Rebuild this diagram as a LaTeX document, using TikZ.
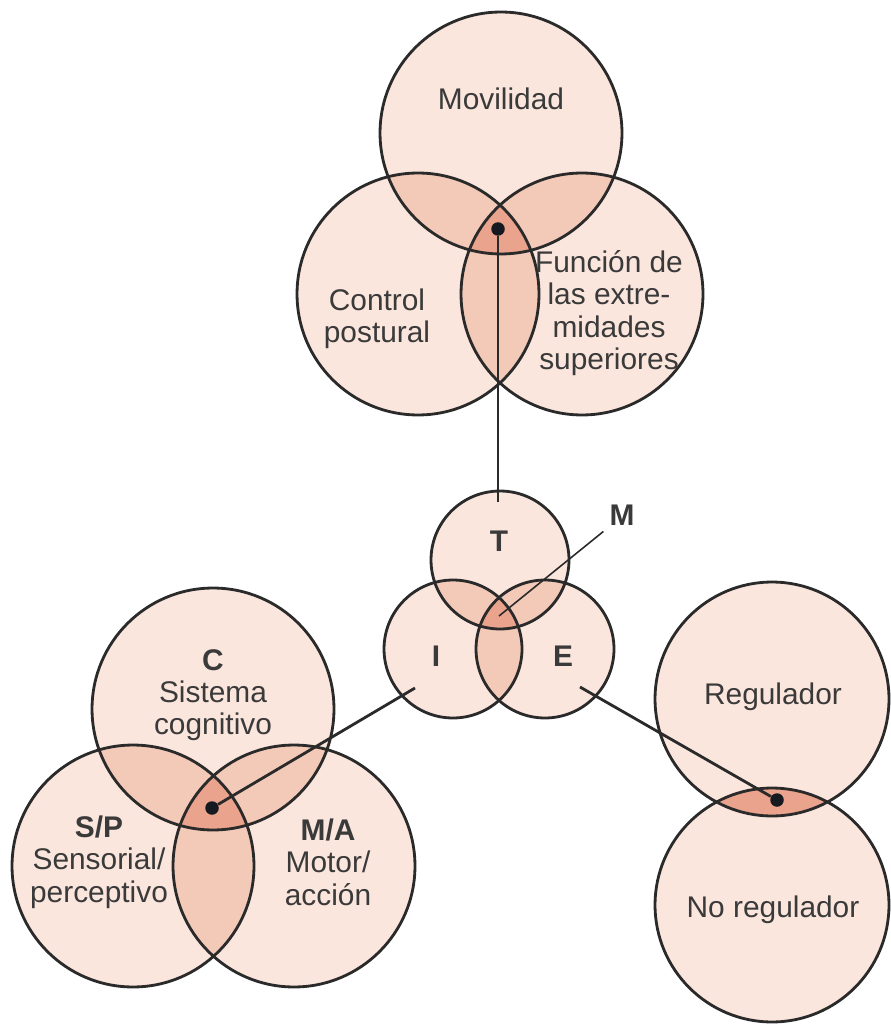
\documentclass[tikz,border=0pt]{standalone}
\usepackage{fontspec}
\setmainfont{Liberation Sans}
\usetikzlibrary{positioning,backgrounds}

\definecolor{vennbase}{HTML}{FBE6DD}
\definecolor{vennpair}{HTML}{F3C9B8}
\definecolor{venntriple}{HTML}{EAA38C}
\definecolor{inkgray}{HTML}{2A2A2A}
\definecolor{txtgray}{HTML}{3A3A3A}
\definecolor{hubink}{HTML}{161A20}

\begin{document}
\begin{tikzpicture}[x=0.02cm, y=-0.02cm,
    ring/.style={circle, draw=inkgray, line width=1.6pt, inner sep=0pt},
    big/.style={ring, minimum size=4.84cm},
    small/.style={ring, minimum size=2.76cm},
    hub/.style={circle, fill=hubink, inner sep=0pt, minimum size=0.27cm},
    tag/.style={text=txtgray, align=center, font=\fontsize{17}{18.4}\selectfont},
    letter/.style={tag, font=\fontsize{17}{18.4}\selectfont\bfseries},
    link/.style={draw=inkgray, line width=1.6pt}
]
    \useasboundingbox (0,0) rectangle (890,1026);

    % Top group
    \node[big] (mov) at (501,133) {};
    \node[big] (pos) at (418,294) {};
    \node[big] (ext) at (582,294) {};

    % Centre group
    \node[small] (T) at (500,560) {};
    \node[small] (I) at (453,649) {};
    \node[small] (E) at (545,649) {};

    % Bottom left group
    \node[big] (cog) at (213,709) {};
    \node[big] (sen) at (133,866) {};
    \node[big] (mot) at (294,866) {};

    % Right pair
    \node[ring, minimum size=4.68cm] (reg) at (772,699) {};
    \node[ring, minimum size=4.68cm] (noreg) at (772,905) {};

    % Fills (behind the rings)
    \begin{scope}[on background layer]
        \foreach \n/\r in {mov/2.42cm, pos/2.42cm, ext/2.42cm, T/1.38cm, I/1.38cm, E/1.38cm,
                           cog/2.42cm, sen/2.42cm, mot/2.42cm, reg/2.34cm, noreg/2.34cm}
            \fill[vennbase] (\n.center) circle (\r);
        \foreach \a/\b/\c/\r in {mov/pos/ext/2.42cm, T/I/E/1.38cm, cog/sen/mot/2.42cm} {
            \begin{scope}
                \clip (\a.center) circle (\r);
                \fill[vennpair] (\b.center) circle (\r) (\c.center) circle (\r);
            \end{scope}
            \begin{scope}
                \clip (\b.center) circle (\r);
                \fill[vennpair] (\c.center) circle (\r);
            \end{scope}
            \begin{scope}
                \clip (\a.center) circle (\r);
                \clip (\b.center) circle (\r);
                \fill[venntriple] (\c.center) circle (\r);
            \end{scope}
        }
        \begin{scope}
            \clip (reg.center) circle (2.34cm);
            \fill[venntriple] (noreg.center) circle (2.34cm);
        \end{scope}
    \end{scope}

    % Labels
    \node[tag] (movtxt) at (501,99) {Movilidad};
    \node[tag] (postxt) at (377,319) {Control\\postural};
    \node[tag] (exttxt) at (609,313) {Función de\\las extre-\\midades\\superiores};
    \node[letter] (ttxt) at (499,541) {T};
    \node[letter] (itxt) at (436,656) {I};
    \node[letter] (etxt) at (563,656) {E};
    \node[letter] (mtxt) at (622,515) {M};
    \node[tag] (cogtxt) at (213,695) {\textbf{C}\\Sistema\\cognitivo};
    \node[tag] (sentxt) at (99,862) {\textbf{S/P}\\Sensorial/\\perceptivo};
    \node[tag] (mottxt) at (328,862) {\textbf{M/A}\\Motor/\\acción};
    \node[tag] (regtxt) at (773,697) {Regulador};
    \node[tag] (noregtxt) at (773,910) {No regulador};

    % Hubs
    \node[hub] (hubtask) at (498,229) {};
    \node[hub] (hubcog) at (212,808) {};
    \node[hub] (hubreg) at (777,800) {};

    % Connectors
    \coordinate (tEnd) at (498,502);
    \coordinate (mEnd) at (499,616);
    \coordinate (iEnd) at (415,688);
    \coordinate (eEnd) at (580,687);
    \draw[link] (hubtask) -- (tEnd);
    \draw[link, line width=0.9pt] (mtxt.south west) -- (mEnd);
    \draw[link] (iEnd) -- (hubcog);
    \draw[link] (eEnd) -- (hubreg);
\end{tikzpicture}
\end{document}
